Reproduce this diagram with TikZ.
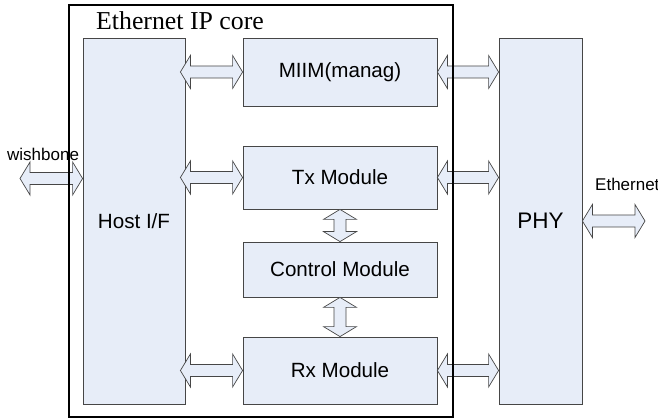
\documentclass[tikz,border=0pt]{standalone}
\usepackage{fontspec}
\setmainfont{Liberation Serif}
\setsansfont{Liberation Sans}
\usetikzlibrary{calc}

\definecolor{boxfill}{RGB}{231,237,248}
\definecolor{boxline}{RGB}{70,70,70}

\tikzset{
  module/.style={draw=boxline, fill=boxfill, line width=0.8pt, inner sep=0pt,
    font=\sffamily\fontsize{20.6}{24}\selectfont},
  label/.style={anchor=base west, inner sep=0pt,
    font=\sffamily\fontsize{17}{20}\selectfont},
  % hollow double-headed block arrow between two points
  blockarrow/.style={draw=boxline, fill=boxfill, line width=0.7pt, line join=miter,
    to path={
      -- ($(\tikztostart)!10pt!(\tikztotarget)!16.5pt!90:(\tikztotarget)$)
      -- ($(\tikztostart)!10pt!(\tikztotarget)!6pt!90:(\tikztotarget)$)
      -- ($(\tikztotarget)!10pt!(\tikztostart)!6pt!-90:(\tikztostart)$)
      -- ($(\tikztotarget)!10pt!(\tikztostart)!16.5pt!-90:(\tikztostart)$)
      -- (\tikztotarget)
      -- ($(\tikztotarget)!10pt!(\tikztostart)!16.5pt!90:(\tikztostart)$)
      -- ($(\tikztotarget)!10pt!(\tikztostart)!6pt!90:(\tikztostart)$)
      -- ($(\tikztostart)!10pt!(\tikztotarget)!6pt!-90:(\tikztotarget)$)
      -- ($(\tikztostart)!10pt!(\tikztotarget)!16.5pt!-90:(\tikztotarget)$)
      -- cycle
    }}
}

\begin{document}
\begin{tikzpicture}[x=1pt, y=-1pt]
\useasboundingbox (0,0) rectangle (658,419);

% blocks
\node[module, minimum width=102pt, minimum height=366pt] (host) at (134,221) {Host I/F};
\node[module, minimum width=194pt, minimum height=68pt] (miim) at (340,72) {MIIM(manag)};
\node[module, minimum width=194pt, minimum height=63pt] (tx) at (340,177.5) {Tx Module};
\node[module, minimum width=194pt, minimum height=55pt] (ctrl) at (340,269.5) {Control Module};
\node[module, minimum width=194pt, minimum height=67pt] (rx) at (340,370.5) {Rx Module};
\node[module, minimum width=83pt, minimum height=366pt,
      font=\sffamily\fontsize{22.5}{26}\selectfont] (phy) at (540.5,221) {PHY};

% arrow end points
\coordinate (hm) at ($(host.east |- miim.west)+(-5pt,0)$);
\coordinate (ht) at ($(host.east |- tx.west)+(-5pt,0)$);
\coordinate (hr) at ($(host.east |- rx.west)+(-5pt,0)$);
\coordinate (pm) at (phy.west |- miim.east);
\coordinate (pt) at (phy.west |- tx.east);
\coordinate (pr) at (phy.west |- rx.east);
\coordinate (wb) at (20,178.5);
\coordinate (hw) at (host.west |- wb);
\coordinate (eth) at (645,221);

% connectors
\draw[blockarrow] (hm) to (miim.west);
\draw[blockarrow] (ht) to (tx.west);
\draw[blockarrow] (hr) to (rx.west);
\draw[blockarrow] (miim.east) to (pm);
\draw[blockarrow] (tx.east) to (pt);
\draw[blockarrow] (rx.east) to (pr);
\draw[blockarrow] (tx.south) to (ctrl.north);
\draw[blockarrow] (ctrl.south) to (rx.north);
\draw[blockarrow] (wb) to (hw);
\draw[blockarrow] (phy.east) to (eth);

% labels
\node[label] (wblabel) at (7,160.5) {wishbone};
\node[label] (ethlabel) at (595,191) {Ethernet};

% core outline and title
\node[draw=black, line width=1.5pt, minimum width=384pt, minimum height=412pt,
      inner sep=0pt] (core) at (261,211) {};
\node[anchor=base west, inner sep=0pt, font=\fontsize{25.8}{30}\selectfont]
      (title) at (96,30) {Ethernet IP core};
\end{tikzpicture}
\end{document}
